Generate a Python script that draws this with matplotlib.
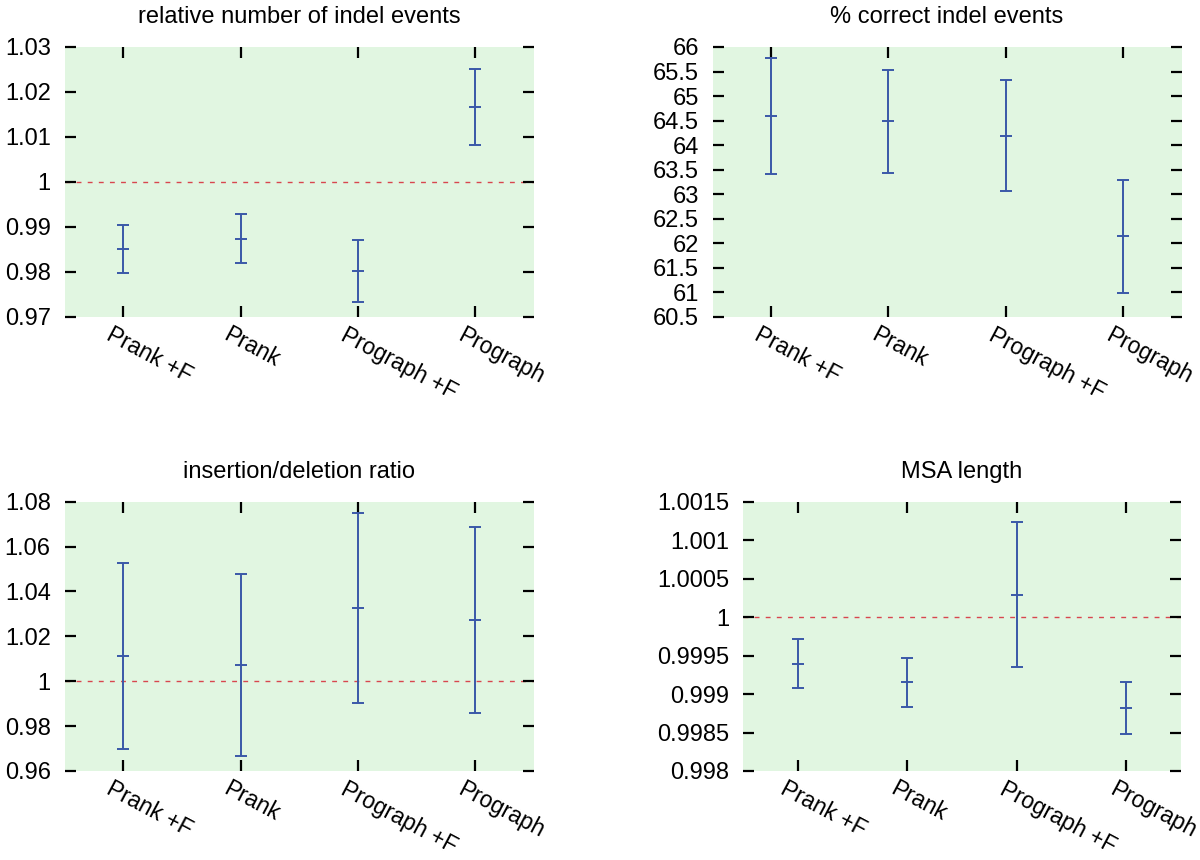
import numpy as np
import matplotlib
matplotlib.use('Agg')
from matplotlib import pyplot as plt
from matplotlib import transforms
from matplotlib.ticker import MultipleLocator, FuncFormatter

plt.rcParams['font.family'] = ['Liberation Sans', 'DejaVu Sans']

methods = ['Prank +F', 'Prank', 'Prograph +F', 'Prograph']

# relative number of indel events
indel_mid = [0.9851, 0.9873, 0.9802, 1.0167]
indel_low = [0.9797, 0.9819, 0.9733, 1.0082]
indel_high = [0.9905, 0.9928, 0.9870, 1.0251]

# % correct indel events
correct_mid = [64.60, 64.49, 64.19, 62.14]
correct_low = [63.41, 63.43, 63.07, 60.99]
correct_high = [65.77, 65.53, 65.32, 63.30]

# insertion/deletion ratio
ratio_mid = [1.0112, 1.0071, 1.0326, 1.0273]
ratio_low = [0.9698, 0.9665, 0.9904, 0.9858]
ratio_high = [1.0525, 1.0478, 1.0748, 1.0687]

# MSA length
msa_mid = [0.999395, 0.999152, 1.000291, 0.998819]
msa_low = [0.999074, 0.998832, 0.999347, 0.998485]
msa_high = [0.999711, 0.999468, 1.001236, 0.999160]

BG = '#e1f6e1'
BLUE = '#3a58a8'
RED = '#d8464e'
FS = 17


def panel(rect, title, mid, low, high, ylim, step, ref=None):
    ax = fig.add_axes(rect)
    ax.set_facecolor(BG)
    for s in ax.spines.values():
        s.set_visible(False)
    x = np.arange(1, len(methods) + 1)
    mid = np.array(mid)
    yerr = [mid - np.array(low), np.array(high) - mid]
    if ref is not None:
        ax.axhline(ref, color=RED, lw=1.0, dashes=(3.5, 4.5), zorder=1)
    ax.errorbar(x, mid, yerr=yerr, fmt='_', color=BLUE, ecolor=BLUE,
                elinewidth=1.4, capsize=4, capthick=1.4, markersize=8.5,
                markeredgewidth=1.4, zorder=3)
    ax.set_xlim(0.5, len(methods) + 0.5)
    ax.set_ylim(*ylim)
    ax.yaxis.set_major_locator(MultipleLocator(step))
    ax.yaxis.set_major_formatter(FuncFormatter(lambda v, p: f'{round(v, 6):g}'))
    ax.set_xticks(x)
    ax.tick_params(axis='both', direction='in', length=8, width=1.6,
                   color='black', top=True, right=True, labelsize=FS)
    ax.tick_params(axis='y', pad=10)
    ax.tick_params(axis='x', pad=4.5)
    ax.set_xticklabels(methods, rotation=-28, ha='left', va='top',
                       rotation_mode='anchor', fontsize=16.5)
    shift = transforms.ScaledTranslation(-10 / 100, 0, fig.dpi_scale_trans)
    for lab in ax.get_xticklabels():
        lab.set_transform(lab.get_transform() + shift)
    ax.set_title(title, fontsize=FS, pad=17)
    return ax


fig = plt.figure(figsize=(12, 8.6), dpi=100)

panel([0.0538, 0.6314, 0.391, 0.314], 'relative number of indel events',
      indel_mid, indel_low, indel_high, (0.97, 1.03), 0.01, ref=1.0)
panel([0.5939, 0.6314, 0.3907, 0.314], '% correct indel events',
      correct_mid, correct_low, correct_high, (60.5, 66), 0.5)
panel([0.0538, 0.1035, 0.391, 0.3131], 'insertion/deletion ratio',
      ratio_mid, ratio_low, ratio_high, (0.96, 1.08), 0.02, ref=1.0)
panel([0.619, 0.1035, 0.3654, 0.3131], 'MSA length',
      msa_mid, msa_low, msa_high, (0.998, 1.0015), 0.0005, ref=1.0)

plt.savefig('out.png', dpi=100)
